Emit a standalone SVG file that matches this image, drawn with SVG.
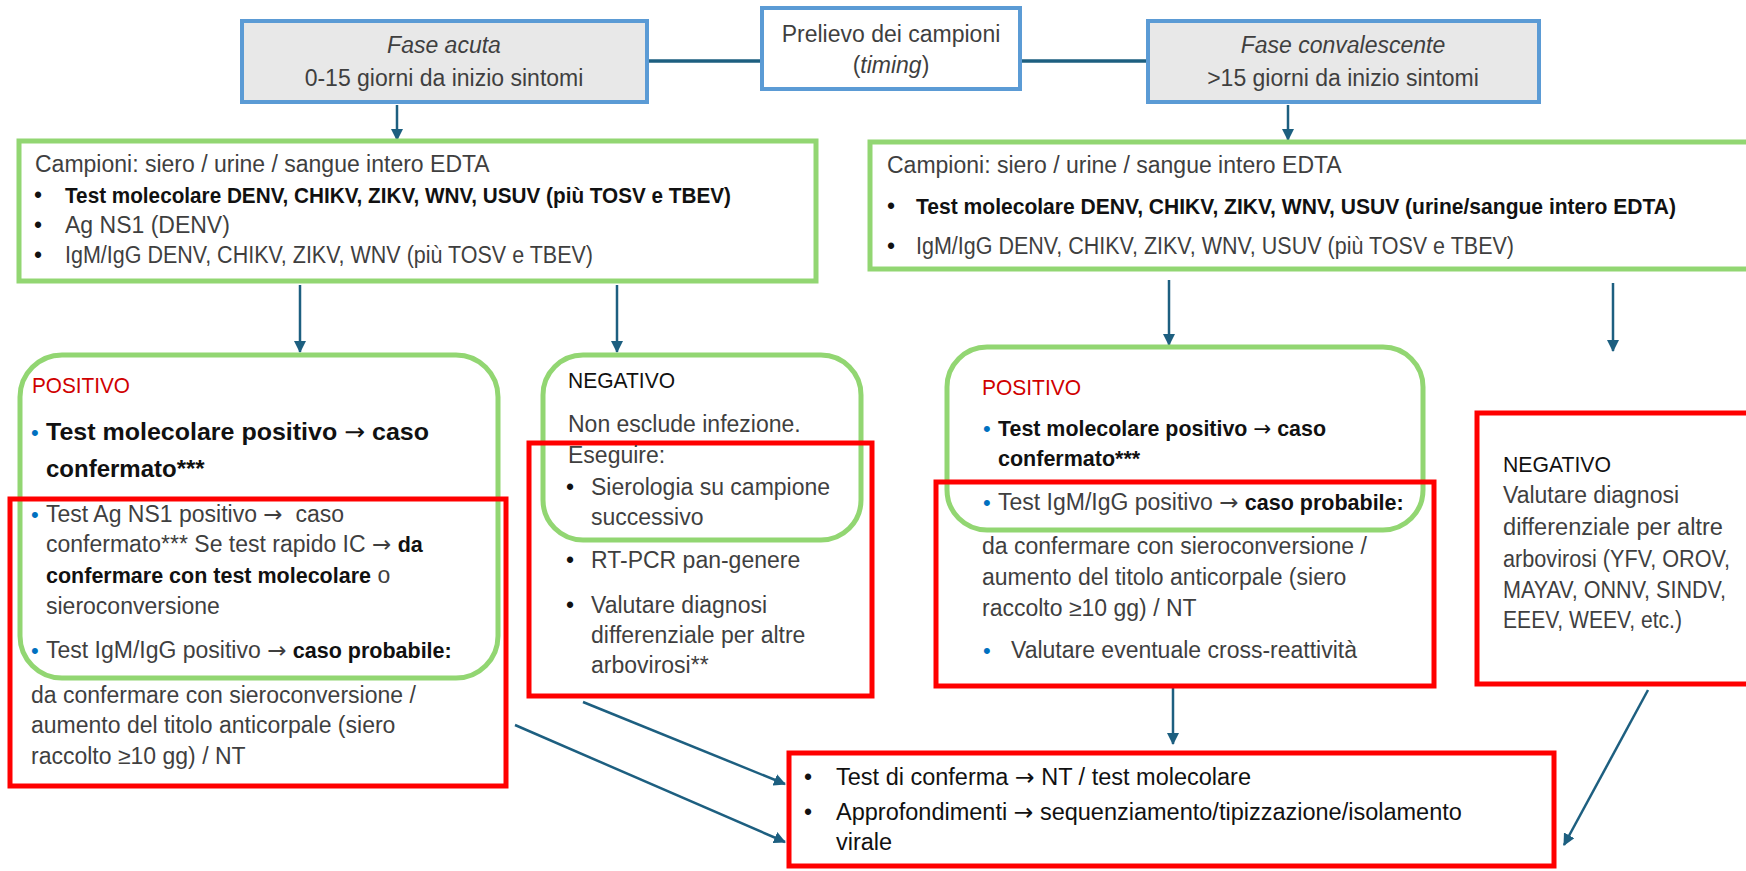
<svg xmlns="http://www.w3.org/2000/svg" width="1746" height="871" viewBox="0 0 1746 871">
<style>
text{font-family:"Liberation Sans",Arial,sans-serif;font-size:23px;fill:#3f3f3f}
.b{font-weight:bold;fill:#111;font-size:21.5px}
.blk{fill:#111}
.it{font-style:italic}
.mid{text-anchor:middle}
.red{fill:#d00000;font-size:22px}
.bb{fill:#0070c0;font-size:22px}
.ar{font-family:"DejaVu Sans",sans-serif;font-weight:normal}
.phase{fill:#e8e8e8;stroke:#5b9bd5;stroke-width:4}
.time{fill:#fff;stroke:#5b9bd5;stroke-width:4}
.g{fill:none;stroke:#92d672;stroke-width:5}
.gw{fill:#fff;stroke:#92d672;stroke-width:5}
.r{fill:none;stroke:#ff0000;stroke-width:5}
.rw{fill:#fff;stroke:#ff0000;stroke-width:5}
.ca{stroke:#1d5f80;stroke-width:2.5;fill:none;marker-end:url(#ah)}
.ch{stroke:#1d5f80;stroke-width:3.5;fill:none}
</style>
<defs>
<marker id="ah" viewBox="0 0 12 12" refX="11" refY="6" markerWidth="12" markerHeight="12" markerUnits="userSpaceOnUse" orient="auto"><path d="M0,0 L12,6 L0,12 z" fill="#1d5f80"/></marker>
</defs>
<rect width="1746" height="871" fill="#fff"/>

<g id="connectors">
<line class="ch" x1="647" y1="61" x2="762" y2="61"/>
<line class="ch" x1="1020" y1="61" x2="1148" y2="61"/>
<line class="ca" x1="397" y1="105" x2="397" y2="140"/>
<line class="ca" x1="1288" y1="105" x2="1288" y2="140"/>
<line class="ca" x1="300" y1="285" x2="300" y2="352"/>
<line class="ca" x1="617" y1="285" x2="617" y2="352"/>
<line class="ca" x1="1169" y1="280" x2="1169" y2="345"/>
<line class="ca" x1="1613" y1="283" x2="1613" y2="351"/>
<line class="ca" x1="515" y1="725" x2="785" y2="842"/>
<line class="ca" x1="583" y1="702" x2="785" y2="784"/>
<line class="ca" x1="1173" y1="688" x2="1173" y2="744"/>
<line class="ca" x1="1648" y1="690" x2="1564" y2="845"/>
</g>

<g id="fase-acuta">
<rect class="phase" x="242" y="21" width="405" height="81"/>
<text class="mid it" x="444" y="53">Fase acuta</text>
<text class="mid" x="444" y="86">0-15 giorni da inizio sintomi</text>
</g>

<g id="prelievo">
<rect class="time" x="762" y="8" width="258" height="81"/>
<text class="mid" x="891" y="42">Prelievo dei campioni</text>
<text class="mid" x="891" y="73">(<tspan class="it">timing</tspan>)</text>
</g>

<g id="fase-convalescente">
<rect class="phase" x="1148" y="21" width="391" height="81"/>
<text class="mid it" x="1343" y="53">Fase convalescente</text>
<text class="mid" x="1343" y="86">&gt;15 giorni da inizio sintomi</text>
</g>

<g id="campioni-acuta">
<rect class="gw" x="19" y="141" width="797" height="140"/>
<text x="35" y="172">Campioni: siero / urine / sangue intero EDTA</text>
<text class="blk" x="34" y="203">•</text>
<text class="b" x="65" y="203" textLength="666" lengthAdjust="spacingAndGlyphs">Test molecolare DENV, CHIKV, ZIKV, WNV, USUV (più TOSV e TBEV)</text>
<text class="blk" x="34" y="233">•</text>
<text x="65" y="233">Ag NS1 (DENV)</text>
<text class="blk" x="34" y="263">•</text>
<text x="65" y="263" textLength="528" lengthAdjust="spacingAndGlyphs">IgM/IgG DENV, CHIKV, ZIKV, WNV (più TOSV e TBEV)</text>
</g>

<g id="campioni-convalescente">
<rect class="gw" x="870" y="142" width="900" height="127"/>
<text x="887" y="173">Campioni: siero / urine / sangue intero EDTA</text>
<text class="blk" x="887" y="214">•</text>
<text class="b" x="916" y="214" textLength="760" lengthAdjust="spacingAndGlyphs">Test molecolare DENV, CHIKV, ZIKV, WNV, USUV (urine/sangue intero EDTA)</text>
<text class="blk" x="887" y="254">•</text>
<text x="916" y="254" textLength="598" lengthAdjust="spacingAndGlyphs">IgM/IgG DENV, CHIKV, ZIKV, WNV, USUV (più TOSV e TBEV)</text>
</g>

<g id="positivo-acuta">
<rect class="g" x="20" y="355" width="478" height="323" rx="42"/>
<rect class="r" x="10" y="499" width="496" height="287"/>
<text class="red" x="32" y="393" textLength="98" lengthAdjust="spacingAndGlyphs">POSITIVO</text>
<text class="bb" x="31" y="440">•</text>
<text class="b" x="46" y="440" style="font-size:24px" textLength="383" lengthAdjust="spacingAndGlyphs">Test molecolare positivo <tspan class="ar">→</tspan> caso</text>
<text class="b" x="46" y="477" style="font-size:24px">confermato***</text>
<text class="bb" x="31" y="522">•</text>
<text x="46" y="522">Test Ag NS1 positivo <tspan class="ar">→</tspan>&#160; caso</text>
<text x="46" y="552">confermato*** Se test rapido IC <tspan class="ar">→</tspan> <tspan class="b">da</tspan></text>
<text x="46" y="583"><tspan class="b">confermare con test molecolare</tspan> o</text>
<text x="46" y="614">sieroconversione</text>
<text class="bb" x="31" y="658">•</text>
<text x="46" y="658">Test IgM/IgG positivo <tspan class="ar">→</tspan> <tspan class="b">caso probabile:</tspan></text>
<text x="31" y="703">da confermare con sieroconversione /</text>
<text x="31" y="733">aumento del titolo anticorpale (siero</text>
<text x="31" y="764">raccolto ≥10 gg) / NT</text>
</g>

<g id="negativo-acuta">
<rect class="g" x="543" y="355" width="318" height="185" rx="40"/>
<rect class="r" x="529" y="443" width="343" height="253"/>
<text class="blk" x="568" y="388" style="font-size:22px" textLength="107" lengthAdjust="spacingAndGlyphs">NEGATIVO</text>
<text x="568" y="432">Non esclude infezione.</text>
<text x="568" y="463">Eseguire:</text>
<text class="blk" x="566" y="495">•</text>
<text x="591" y="495">Sierologia su campione</text>
<text x="591" y="525">successivo</text>
<text class="blk" x="566" y="568">•</text>
<text x="591" y="568">RT-PCR pan-genere</text>
<text class="blk" x="566" y="613">•</text>
<text x="591" y="613">Valutare diagnosi</text>
<text x="591" y="643">differenziale per altre</text>
<text x="591" y="673">arbovirosi**</text>
</g>

<g id="positivo-convalescente">
<rect class="g" x="947" y="347" width="476" height="183" rx="40"/>
<rect class="r" x="936" y="482" width="498" height="204"/>
<text class="red" x="982" y="395" textLength="99" lengthAdjust="spacingAndGlyphs">POSITIVO</text>
<text class="bb" x="983" y="436">•</text>
<text class="b" x="998" y="436" textLength="328" lengthAdjust="spacingAndGlyphs">Test molecolare positivo <tspan class="ar">→</tspan> caso</text>
<text class="b" x="998" y="466">confermato***</text>
<text class="bb" x="983" y="510">•</text>
<text x="998" y="510">Test IgM/IgG positivo <tspan class="ar">→</tspan> <tspan class="b">caso probabile:</tspan></text>
<text x="982" y="554">da confermare con sieroconversione /</text>
<text x="982" y="585">aumento del titolo anticorpale (siero</text>
<text x="982" y="616">raccolto ≥10 gg) / NT</text>
<text class="bb" x="983" y="658">•</text>
<text x="1011" y="658">Valutare eventuale cross-reattività</text>
</g>

<g id="negativo-convalescente">
<rect class="rw" x="1477" y="413" width="300" height="271"/>
<text class="blk" x="1503" y="472" style="font-size:22px" textLength="108" lengthAdjust="spacingAndGlyphs">NEGATIVO</text>
<text x="1503" y="503">Valutare diagnosi</text>
<text x="1503" y="535" textLength="220" lengthAdjust="spacingAndGlyphs">differenziale per altre</text>
<text x="1503" y="567" textLength="227" lengthAdjust="spacingAndGlyphs">arbovirosi (YFV, OROV,</text>
<text x="1503" y="598" textLength="223" lengthAdjust="spacingAndGlyphs">MAYAV, ONNV, SINDV,</text>
<text x="1503" y="628" textLength="179" lengthAdjust="spacingAndGlyphs">EEEV, WEEV, etc.)</text>
</g>

<g id="conferma">
<rect class="rw" x="789" y="753" width="765" height="113"/>
<text class="blk" x="804" y="785">•</text>
<text class="blk" x="836" y="785" style="font-size:23.5px">Test di conferma <tspan class="ar">→</tspan> NT / test molecolare</text>
<text class="blk" x="804" y="820">•</text>
<text class="blk" x="836" y="820" style="font-size:23.5px">Approfondimenti <tspan class="ar">→</tspan> sequenziamento/tipizzazione/isolamento</text>
<text class="blk" x="836" y="850" style="font-size:23.5px">virale</text>
</g>
</svg>
